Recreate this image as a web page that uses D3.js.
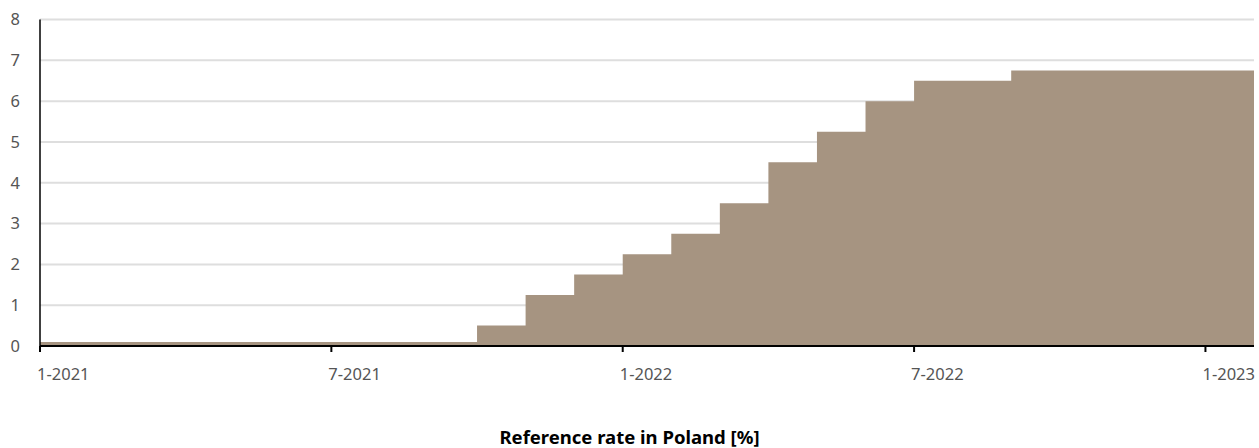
<!DOCTYPE html>
<html>
<head>
<meta charset="utf-8">
<script src="https://cdn.jsdelivr.net/npm/d3@7"></script>
<style>
  html, body { margin: 0; padding: 0; background: #fff; }
  svg { display: block; font-family: "Segoe UI", "Noto Sans", "Open Sans", sans-serif; }
</style>
</head>
<body>
<svg id="chart" width="1259" height="448"></svg>
<script>
// Monthly reference rate of the National Bank of Poland, Jan 2021 – Jan 2023
const months = [
  "1-2021","2-2021","3-2021","4-2021","5-2021","6-2021","7-2021","8-2021","9-2021","10-2021","11-2021","12-2021",
  "1-2022","2-2022","3-2022","4-2022","5-2022","6-2022","7-2022","8-2022","9-2022","10-2022","11-2022","12-2022",
  "1-2023"
];
const rates = [
  0.1, 0.1, 0.1, 0.1, 0.1, 0.1, 0.1, 0.1, 0.1, 0.5, 1.25, 1.75,
  2.25, 2.75, 3.5, 4.5, 5.25, 6.0, 6.5, 6.5, 6.75, 6.75, 6.75, 6.75,
  6.75
];
const xTickLabels = ["1-2021", "7-2021", "1-2022", "7-2022", "1-2023"];
const yTicks = [0, 1, 2, 3, 4, 5, 6, 7, 8];
const title = "Reference rate in Poland [%]";

const svg = d3.select("#chart");
const margin = { left: 40, right: 5, top: 19.5, bottom: 102 };
const W = 1259, H = 448;

// Each month occupies one unit; the last month extends to the end of the range
const x = d3.scaleLinear().domain([0, months.length]).range([margin.left, W - margin.right]);
const y = d3.scaleLinear().domain([0, 8]).range([H - margin.bottom, margin.top]);

// Horizontal gridlines
svg.append("g").selectAll("line").data(yTicks.filter(d => d > 0)).join("line")
  .attr("x1", x(0)).attr("x2", x(months.length))
  .attr("y1", d => y(d)).attr("y2", d => y(d))
  .attr("stroke", "#dedede").attr("stroke-width", 2);

// Step area: one point per month plus a closing point at the end
const pts = rates.map((v, i) => ({ i, v }));
pts.push({ i: rates.length, v: rates[rates.length - 1] });
const area = d3.area()
  .x(d => x(d.i)).y0(y(0)).y1(d => y(d.v))
  .curve(d3.curveStepAfter);
svg.append("path").datum(pts).attr("d", area).attr("fill", "#a69481");

// Y axis labels and line
svg.append("g").selectAll("text").data(yTicks).join("text")
  .attr("x", 20).attr("y", d => y(d)).attr("dy", "0.35em")
  .attr("text-anchor", "end").attr("font-size", 16.5).attr("fill", "#555")
  .text(d => d);
svg.append("line")
  .attr("x1", x(0)).attr("x2", x(0)).attr("y1", y(8)).attr("y2", y(0) + 5)
  .attr("stroke", "#000").attr("stroke-width", 1.5);

// X axis line, ticks and labels
svg.append("line")
  .attr("x1", x(0)).attr("x2", x(months.length)).attr("y1", y(0)).attr("y2", y(0))
  .attr("stroke", "#000").attr("stroke-width", 2);
const xTicks = xTickLabels.map(l => ({ l, i: months.indexOf(l) }));
const xg = svg.append("g").selectAll("g").data(xTicks).join("g")
  .attr("transform", d => `translate(${x(d.i)},${y(0)})`);
xg.append("line").attr("y1", 0).attr("y2", 6).attr("stroke", "#000").attr("stroke-width", 2);
xg.append("text").attr("x", -3).attr("y", 34)
  .attr("text-anchor", "start").attr("font-size", 16.5).attr("fill", "#555")
  .text(d => d.l);

// Chart title below the axis
svg.append("text").attr("x", 629.5).attr("y", 444)
  .attr("text-anchor", "middle").attr("font-size", 18.5).attr("font-weight", "bold").attr("fill", "#000")
  .text(title);
</script>
</body>
</html>
